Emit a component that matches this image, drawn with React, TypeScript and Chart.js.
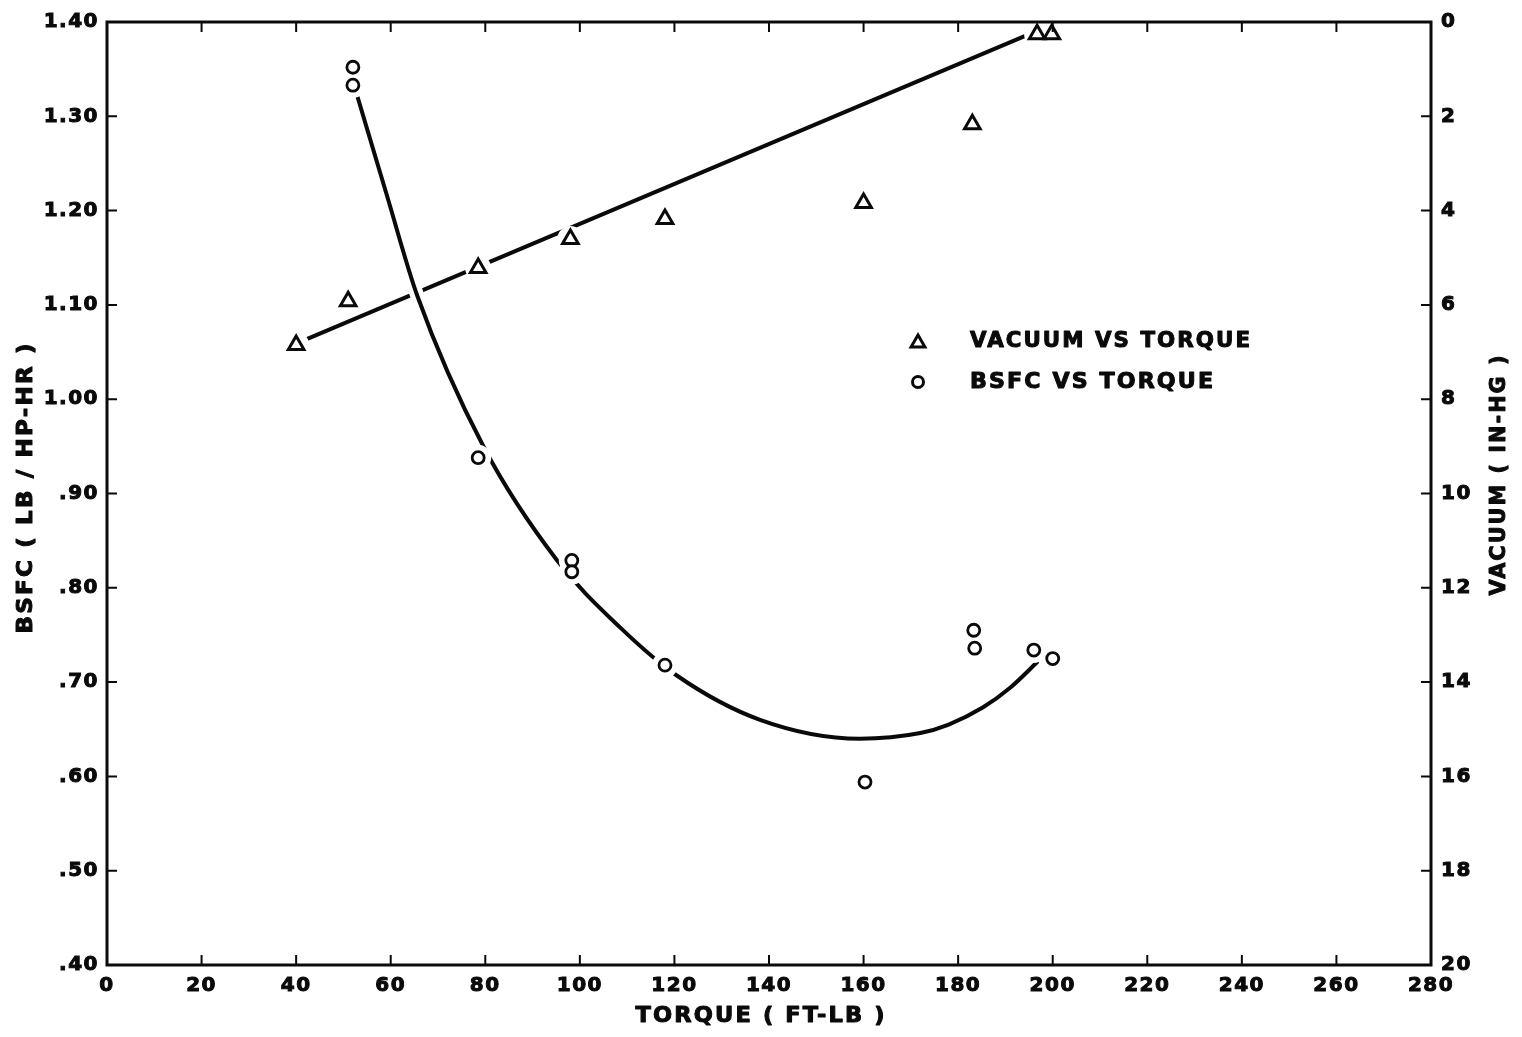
import { useEffect, useRef } from 'react';
import { Chart, registerables } from 'chart.js';

Chart.register(...registerables);

// Axis tick labels
const torqueTickLabels = ['0', '20', '40', '60', '80', '100', '120', '140', '160', '180', '200', '220', '240', '260', '280'];
const bsfcTickLabels = ['.40', '.50', '.60', '.70', '.80', '.90', '1.00', '1.10', '1.20', '1.30', '1.40'];
const vacuumTickLabels = ['0', '2', '4', '6', '8', '10', '12', '14', '16', '18', '20'];

// Manifold vacuum (in-Hg) measured against torque (ft-lb)
const vacTorque = [40, 51, 78.5, 98, 118, 160, 183, 196.7, 199.8];
const vacValues = [6.85, 5.92, 5.22, 4.6, 4.18, 3.84, 2.17, 0.26, 0.26];

// Straight fitted vacuum line
const vacFitTorque = [38.1, 196.7];
const vacFitValues = [6.9, 0.19];

// Brake specific fuel consumption (lb/hp-hr) measured against torque
const bsfcTorque = [52, 52, 78.5, 98.3, 98.3, 118, 160.3, 183.3, 183.5, 196, 200];
const bsfcValues = [1.352, 1.333, 0.938, 0.829, 0.817, 0.718, 0.594, 0.755, 0.736, 0.734, 0.725];

// Faired BSFC curve
const bsfcCurveTorque = [52.9, 59.2, 65.6, 79.7, 95.2, 108.5, 120.5, 138.1, 159.2, 172, 178, 185.2, 191, 196.7];
const bsfcCurveValues = [1.322, 1.216, 1.11, 0.949, 0.829, 0.758, 0.707, 0.66, 0.64, 0.646, 0.655, 0.673, 0.694, 0.721];

const legendLabels = ['VACUUM VS TORQUE', 'BSFC VS TORQUE'];
const xTitle = 'TORQUE ( FT-LB )';
const leftTitle = 'BSFC ( LB / HP-HR )';
const rightTitle = 'VACUUM ( IN-HG )';

const INK = '#0a0a0a';
const FAMILY = '"DejaVu Sans", "Liberation Sans", sans-serif';

const pts = (xs: number[], ys: number[]) => xs.map((x, i) => ({ x, y: ys[i] }));

// Lettered text fitted to a given overall width; anchored at its left end or centre
function letterText(
  ctx: CanvasRenderingContext2D,
  text: string,
  x: number,
  y: number,
  width: number,
  opts: { rot?: number; centre?: boolean } = {}
) {
  const spacing = 2;
  ctx.save();
  ctx.font = `bold 21px ${FAMILY}`;
  (ctx as any).letterSpacing = `${spacing}px`;
  const w = ctx.measureText(text).width - spacing;
  const sx = width / w;
  ctx.translate(x, y);
  ctx.rotate(opts.rot ?? 0);
  ctx.scale(sx, 1);
  ctx.textAlign = 'left';
  ctx.textBaseline = 'middle';
  ctx.fillStyle = INK;
  ctx.strokeStyle = INK;
  ctx.lineWidth = 1;
  ctx.lineJoin = 'round';
  const x0 = opts.centre ? -w / 2 : 0;
  ctx.strokeText(text, x0, 0);
  ctx.fillText(text, x0, 0);
  ctx.restore();
}

const framePlugin = {
  id: 'frameAndNotes',
  beforeDraw(chart: any) {
    (chart.ctx as any).letterSpacing = '1.5px';
  },
  afterDraw(chart: any) {
    const ctx: CanvasRenderingContext2D = chart.ctx;
    const { left, right, top, bottom } = chart.chartArea;
    const xs = chart.scales.x;
    const ys = chart.scales.y;
    const vs = chart.scales.vac;
    const tick = 10;
    ctx.save();
    (ctx as any).letterSpacing = '0px';
    ctx.strokeStyle = INK;
    ctx.lineCap = 'butt';

    // inward tick marks
    ctx.lineWidth = 2;
    ctx.beginPath();
    xs.ticks.forEach((t: any) => {
      if (t.value <= xs.min || t.value >= xs.max) return;
      const px = xs.getPixelForValue(t.value);
      ctx.moveTo(px, bottom);
      ctx.lineTo(px, bottom - tick);
      ctx.moveTo(px, top);
      ctx.lineTo(px, top + tick);
    });
    ys.ticks.forEach((t: any) => {
      if (t.value <= ys.min + 1e-9 || t.value >= ys.max - 1e-9) return;
      const py = ys.getPixelForValue(t.value);
      ctx.moveTo(left, py);
      ctx.lineTo(left + tick, py);
    });
    vs.ticks.forEach((t: any) => {
      if (t.value <= vs.min || t.value >= vs.max) return;
      const py = vs.getPixelForValue(t.value);
      ctx.moveTo(right, py);
      ctx.lineTo(right - tick, py);
    });
    ctx.stroke();

    // frame
    ctx.lineWidth = 3;
    ctx.strokeRect(left, top, right - left, bottom - top);
    ctx.restore();

    // axis titles
    letterText(ctx, xTitle, (left + right) / 2 - 9, bottom + 52, 249, { centre: true });
    letterText(ctx, leftTitle, 27, (top + bottom) / 2 - 5, 290, { centre: true, rot: -Math.PI / 2 });
    letterText(ctx, rightTitle, 1500, (top + bottom) / 2 - 18, 240, { centre: true, rot: -Math.PI / 2 });

    // legend
    const lx = 918;
    const ly1 = 341;
    const ly2 = 382;
    ctx.save();
    ctx.strokeStyle = INK;
    ctx.fillStyle = '#fff';
    ctx.lineWidth = 3;
    ctx.lineJoin = 'miter';
    const r = 8;
    ctx.beginPath();
    ctx.moveTo(lx, ly1 - r * 0.75);
    ctx.lineTo(lx + r * 0.866, ly1 + r * 0.75);
    ctx.lineTo(lx - r * 0.866, ly1 + r * 0.75);
    ctx.closePath();
    ctx.fill();
    ctx.stroke();
    ctx.beginPath();
    ctx.arc(lx, ly2, 5.5, 0, Math.PI * 2);
    ctx.fill();
    ctx.stroke();
    ctx.restore();
    letterText(ctx, legendLabels[0], 970, ly1 + 1, 280);
    letterText(ctx, legendLabels[1], 970, ly2 + 1, 243);
  },
};

export default function App() {
  const canvasRef = useRef<HTMLCanvasElement>(null);

  useEffect(() => {
    if (!canvasRef.current) return;
    const tickFont = { family: FAMILY, size: 20, weight: 'bold' as const };
    const tickCommon = {
      color: INK,
      font: tickFont,
      textStrokeColor: INK,
      textStrokeWidth: 1,
    };

    const chart = new Chart(canvasRef.current, {
      type: 'line',
      data: {
        datasets: [
          {
            label: 'Vacuum vs torque',
            data: pts(vacTorque, vacValues),
            yAxisID: 'vac',
            showLine: false,
            pointStyle: 'triangle',
            pointRadius: 9,
            pointBorderWidth: 3,
            pointBorderColor: INK,
            pointBackgroundColor: '#fff',
            order: 0,
          },
          {
            label: 'BSFC vs torque',
            data: pts(bsfcTorque, bsfcValues),
            yAxisID: 'y',
            showLine: false,
            pointStyle: 'circle',
            pointRadius: 6,
            pointBorderWidth: 2.8,
            pointBorderColor: INK,
            pointBackgroundColor: '#fff',
            order: 0,
          },
          {
            label: 'vacuum clearance',
            data: pts(vacTorque, vacValues),
            yAxisID: 'vac',
            showLine: false,
            pointStyle: 'circle',
            pointRadius: 13,
            pointBorderWidth: 0,
            pointBackgroundColor: '#fff',
            order: 1,
          },
          {
            label: 'bsfc clearance',
            data: pts(bsfcTorque, bsfcValues),
            yAxisID: 'y',
            showLine: false,
            pointStyle: 'circle',
            pointRadius: 13,
            pointBorderWidth: 0,
            pointBackgroundColor: '#fff',
            order: 1,
          },
          {
            label: 'BSFC curve',
            data: pts(bsfcCurveTorque, bsfcCurveValues),
            yAxisID: 'y',
            borderColor: INK,
            borderWidth: 4,
            borderCapStyle: 'round',
            cubicInterpolationMode: 'monotone',
            pointRadius: 0,
            fill: false,
            order: 2,
          },
          {
            label: 'BSFC curve clearance',
            data: pts(bsfcCurveTorque, bsfcCurveValues),
            yAxisID: 'y',
            borderColor: '#fff',
            borderWidth: 14,
            cubicInterpolationMode: 'monotone',
            pointRadius: 0,
            fill: false,
            order: 3,
          },
          {
            label: 'Vacuum fit',
            data: pts(vacFitTorque, vacFitValues),
            yAxisID: 'vac',
            borderColor: INK,
            borderWidth: 4,
            borderCapStyle: 'round',
            pointRadius: 0,
            fill: false,
            order: 4,
          },
        ],
      },
      options: {
        responsive: true,
        maintainAspectRatio: false,
        animation: false,
        layout: { padding: { top: 21, left: 0, right: 0, bottom: 0 } },
        plugins: {
          legend: { display: false },
          tooltip: { enabled: false },
        },
        scales: {
          x: {
            type: 'linear',
            min: 0,
            max: 280,
            grid: { display: false, drawTicks: false },
            border: { display: false },
            ticks: {
              ...tickCommon,
              stepSize: 20,
              padding: 9,
              maxRotation: 0,
              callback: (v: any) => torqueTickLabels[Math.round(Number(v) / 20)] ?? String(v),
            },
            afterFit: (s: any) => {
              s.height = 72;
            },
          },
          y: {
            type: 'linear',
            position: 'left',
            min: 0.4,
            max: 1.4,
            grid: { display: false, drawTicks: false },
            border: { display: false },
            ticks: {
              ...tickCommon,
              stepSize: 0.1,
              padding: 8,
              callback: (v: any) => bsfcTickLabels[Math.round((Number(v) - 0.4) * 10)] ?? String(v),
            },
            afterFit: (s: any) => {
              s.width = 107;
            },
          },
          vac: {
            type: 'linear',
            position: 'right',
            min: 0,
            max: 20,
            reverse: true,
            grid: { display: false, drawTicks: false },
            border: { display: false },
            ticks: {
              ...tickCommon,
              stepSize: 2,
              padding: 10,
              callback: (v: any) => vacuumTickLabels[Math.round(Number(v) / 2)] ?? String(v),
            },
            afterFit: (s: any) => {
              s.width = 91;
            },
          },
        },
      },
      plugins: [framePlugin],
    });

    return () => chart.destroy();
  }, []);

  return (
    <div style={{ position: 'absolute', left: 0, top: 0, width: 1522, height: 1037, background: '#fff' }}>
      <canvas ref={canvasRef} />
    </div>
  );
}
